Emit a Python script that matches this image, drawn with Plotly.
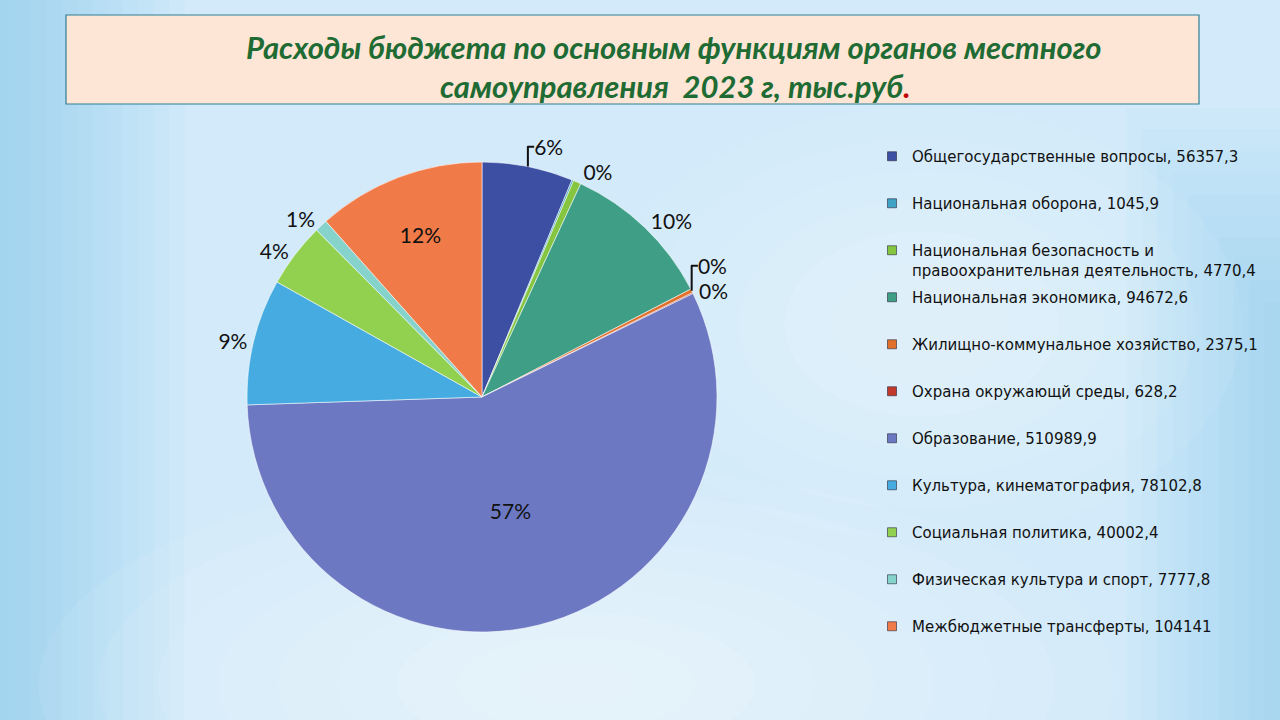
import plotly.graph_objects as go

categories = [
    "Общегосударственные вопросы",
    "Национальная оборона",
    "Национальная безопасность и правоохранительная деятельность",
    "Национальная экономика",
    "Жилищно-коммунальное хозяйство",
    "Охрана окружающй среды",
    "Образование",
    "Культура, кинематография",
    "Социальная политика",
    "Физическая культура и спорт",
    "Межбюджетные трансферты",
]
legend_labels = [
    "Общегосударственные вопросы, 56357,3",
    "Национальная оборона, 1045,9",
    "Национальная безопасность и<br>правоохранительная деятельность, 4770,4",
    "Национальная экономика, 94672,6",
    "Жилищно-коммунальное хозяйство, 2375,1",
    "Охрана окружающй среды, 628,2",
    "Образование, 510989,9",
    "Культура, кинематография, 78102,8",
    "Социальная политика, 40002,4",
    "Физическая культура и спорт, 7777,8",
    "Межбюджетные трансферты, 104141",
]
values = [56357.3, 1045.9, 4770.4, 94672.6, 2375.1, 628.2, 510989.9, 78102.8, 40002.4, 7777.8, 104141]
percent_labels = ["6%", "", "0%", "10%", "0%", "0%", "57%", "9%", "4%", "1%", "12%"]
label_positions = ["outside", "outside", "outside", "outside", "outside", "outside",
                   "inside", "outside", "outside", "outside", "inside"]
colors = ["#3c4fa2", "#3fa3c6", "#86c540", "#3f9f86", "#e0702a", "#c0392b",
          "#6c78c2", "#45abe0", "#92d050", "#86d3cb", "#f07a48"]

W, H = 1280, 720


def px(x):
    return x / W


def py(y):
    return 1 - y / H


fig = go.Figure()

fig.add_trace(go.Pie(
    labels=categories,
    values=values,
    text=percent_labels,
    textinfo="text",
    textposition=label_positions,
    sort=False,
    direction="clockwise",
    rotation=0,
    marker=dict(colors=colors, line=dict(color="rgba(255,255,255,0.55)", width=1)),
    textfont=dict(family="Lato, Noto Sans, sans-serif", size=21, color="#111111"),
    insidetextorientation="horizontal",
    domain=dict(x=[px(247), px(717)], y=[py(632), py(162)]),
    showlegend=False,
    hoverinfo="label+value+percent",
))

for name, col in zip(legend_labels, colors):
    shown = name if "<br>" in name else name + "<br>\u00a0"
    fig.add_trace(go.Scatter(
        x=[None], y=[None], mode="markers", name=shown, legendgroup=name,
        marker=dict(symbol="square", size=9, color=col,
                    line=dict(color="rgba(40,40,60,0.6)", width=1)),
        hoverinfo="skip",
    ))

shapes = []
nofill = dict(width=0)
# smooth-ish background gradient approximation
for k in range(1, 13):
    shapes.append(dict(type="rect", xref="paper", yref="paper", x0=0, x1=0.012 * k, y0=0, y1=1,
                       fillcolor="#7cc2f0", opacity=0.05, line=nofill, layer="below"))
for k in range(1, 11):
    shapes.append(dict(type="rect", xref="paper", yref="paper", x0=1 - 0.012 * k, x1=1, y0=0,
                       y1=0.55 + 0.03 * k, fillcolor="#7cc2f0", opacity=0.05, line=nofill,
                       layer="below"))
for k in range(1, 10):
    s = k / 9
    shapes.append(dict(type="circle", xref="paper", yref="paper",
                       x0=0.45 - 0.42 * s, x1=0.45 + 0.42 * s,
                       y0=0.05 - 0.3 * s, y1=0.05 + 0.3 * s,
                       fillcolor="white", opacity=0.07, line=nofill, layer="below"))
for k in range(1, 8):
    s = k / 7
    shapes.append(dict(type="circle", xref="paper", yref="paper",
                       x0=0.72 - 0.25 * s, x1=0.72 + 0.25 * s,
                       y0=0.55 - 0.3 * s, y1=0.55 + 0.3 * s,
                       fillcolor="white", opacity=0.06, line=nofill, layer="below"))
# title box
shapes.append(dict(type="rect", xref="paper", yref="paper", x0=px(66), x1=px(1199),
                   y0=py(104), y1=py(15), fillcolor="#fde6d6",
                   line=dict(color="#2f7f95", width=1.2), layer="above"))

title_font = dict(family="Lato, Noto Sans, sans-serif", size=31, color="#1f6b34")
annotations = [
    dict(text="<b><i>Расходы бюджета по основным функциям органов местного</i></b>",
         x=px(674), y=py(47), xref="paper", yref="paper", showarrow=False,
         font=title_font, xanchor="center", yanchor="middle"),
    dict(text="<b><i>самоуправления&nbsp; 2023 г, тыс.руб</i></b><b><i><span style='color:#c00000'>.</span></i></b>",
         x=px(675), y=py(86), xref="paper", yref="paper", showarrow=False,
         font=title_font, xanchor="center", yanchor="middle"),
]

fig.update_layout(
    width=W, height=H,
    margin=dict(l=0, r=0, t=0, b=0),
    paper_bgcolor="#d2eafa",
    plot_bgcolor="rgba(0,0,0,0)",
    xaxis=dict(visible=False),
    yaxis=dict(visible=False),
    shapes=shapes,
    annotations=annotations,
    legend=dict(
        x=px(872), y=py(140), xanchor="left", yanchor="top",
        bgcolor="rgba(0,0,0,0)", borderwidth=0,
        font=dict(family="DejaVu Sans, sans-serif", size=15, color="#111111"),
        tracegroupgap=5, traceorder="grouped", valign="top",
    ),
)

fig.write_html("out.html")
